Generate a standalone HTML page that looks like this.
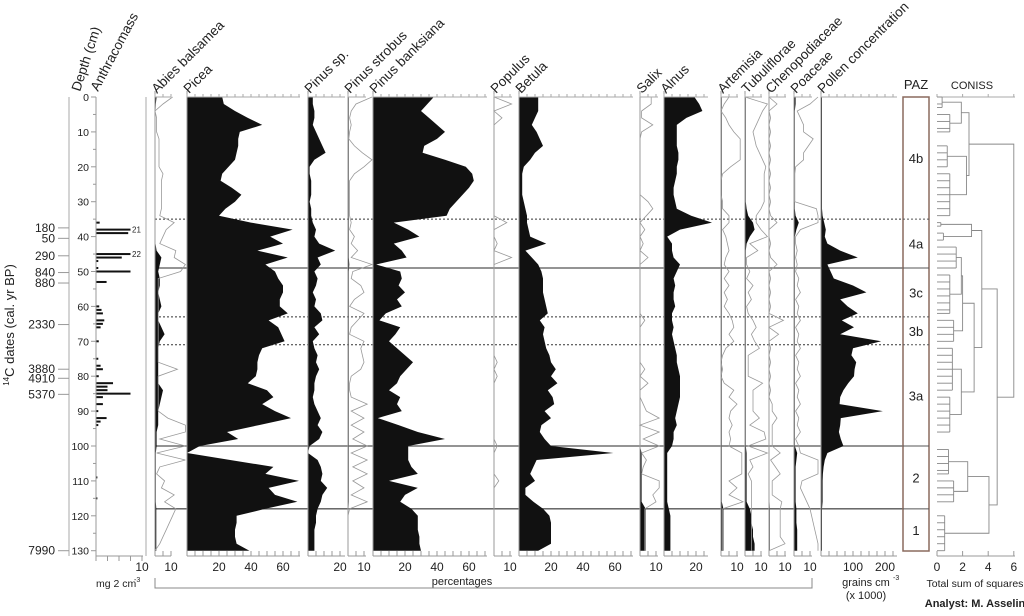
<!DOCTYPE html>
<html><head><meta charset="utf-8"><style>
html,body{margin:0;padding:0;background:#fff;}
svg{display:block;font-family:"Liberation Sans",sans-serif;}
</style></head><body>
<svg id="chart" width="1024" height="616" viewBox="0 0 1024 616" xmlns="http://www.w3.org/2000/svg"></svg>
<script>
const depths=[0,2,4,6,8,10,12,14,16,18,20,22,24,26,28,30,32,34,36,38,40,42,44,46,48,50,52,54,56,58,60,62,64,66,68,70,72,74,76,78,80,82,84,86,88,90,92,94,96,98,100,102,104,106,108,110,112,114,116,118,120,122,124,126,128,130];
const picea=[22,23,30,38,47,33,32,32,31,30,26,22,21,28,34,30,24,20,40,66,52,60,44,63,49,55,57,60,60,58,58,63,51,57,59,61,47,45,44,44,43,38,50,54,47,55,65,45,25,32,8,0,27,54,49,70,51,55,69,49,31,31,30,30,31,39];
const pinusSp=[3,3,4,4,3,5,7,9,11,4,1,1,2,2,2,1,2,2,3,5,4,7,17,6,8,4,6,5,3,5,4,8,9,4,7,3,4,6,5,7,5,4,4,3,4,6,8,6,9,7,1,0,6,8,9,8,12,9,8,6,5,5,4,4,4,4];
const banksiana=[38,34,30,35,40,45,40,32,31,45,58,62,63,60,56,52,48,46,13,22,29,13,18,21,2,17,18,16,20,15,18,8,4,17,14,10,15,20,25,21,17,15,10,17,15,18,3,16,28,45,22,22,22,24,28,10,28,20,17,24,28,28,28,29,29,30];
const betula=[12,12,12,10,8,11,13,15,10,7,3,2,2,2,2,3,4,5,5,6,7,17,4,8,12,14,15,15,15,16,17,18,13,16,15,16,17,19,20,23,20,24,18,21,22,16,20,14,13,16,20,59,11,9,7,10,4,4,9,15,19,20,20,20,20,12];
const alnus=[19,22,24,14,8,8,8,8,9,9,8,8,7,6,6,7,8,17,30,10,2,5,5,6,10,8,6,7,6,6,7,5,5,6,5,6,7,8,8,9,10,10,10,10,9,8,7,8,6,6,5,2,2,2,2,2,2,2,2,3,4,4,4,4,4,4];
const abies=[1,0.5,0.3,0.3,0.3,0.3,0.3,0.3,0.3,0.3,0.3,0.3,0.3,0.3,0.3,0.3,0.3,0.3,0.3,0.3,0.3,0.3,1,4,3,2,3,3,2,3,4,2,2,4,6,3,2,2,2,2,2,2,5,4,3,2,2,2,1,1,1,0.5,0.5,0.5,0.5,0.5,0.5,0.5,0.5,0.8,0.8,0.8,0.8,0.8,0.8,0.8];
const abiesEx=[11,5,0,1,1,1,2.5,2.5,2.5,2.5,2.5,5,4,4,4,4,4,3,12,7,5,3,13,12,19,16,2,2,2,2,2,2,2,2,2,2,2,2,2,14,2,2,2,2,2,2,8,19,19,3,19,1,19,3,1,6,4,12,6,13,11,9,7,5,3,0];
const strobus=[0.5,0.5,0.5,0.5,0.5,0.5,0.5,0.5,0.5,0.5,0.5,0.5,0.5,0.5,0.5,0.5,0.5,0.5,0.5,0.5,0.5,0.5,0.5,0.5,0.8,0.5,0.5,0.5,0.5,0.5,0.5,0.5,0.5,0.5,0.5,0.5,0.5,0.5,0.5,0.5,0.5,0.5,0.5,0.5,0.5,0.5,0.5,0.5,0.5,0.5,0.5,0.5,0.5,0.5,0.5,0.5,0.5,0.5,0.5,0.3,0.3,0.3,0.3,0.3,0.3,0.3];
const strobusEx=[15,5,2,1,2,1,0.5,4,9,15,10,4,1,1,1,1,1,1,2,1,4,2,6,2,15,3,2,8,10,4,1,10,6,2,1,10,8,9,10,8,2,1,1,2,12,2,10,2,10,3,12,2,12,3,12,3,10,2,12,1,0,0,0,0,0,0];
const populusEx=[0,11,0,5,0,0,0,0,0,0,0,0,0,0,0,0,0,0,8,0,0,2,0,11,0,0,0,0,0,0,0,0,0,0,0,0,0,0,2,0,2,0,0,0,0,0,0,0,0,0,2,0,0,0,0,3,0,0,0,0,0,0,0,0,0,0];
const salix=[0,0,0,0,0,0,0,0,0,0,0,0,0,0,0,0,0,0,0,0,0,0,0,0,0,0,0,0,0,0,0,0,0,0,0,0,0,0,0,0,0,0,0,0,0,0,0,0,0,0,0,1,1,1,1,1,1,1,1,3.5,3.5,3.5,3.5,3.5,3.5,3.5];
const salixEx=[7,7,1,1,8,1,0,0,0,0,0,0,0,0,0,5,8,4,0,3,0,2,0,5,0,0,0,0,0,0,0,0,3,0,0,0,0,0,0,3,0,5,0,0,2,4,12,0,12,2,12,1,4,2,1,12,12,8,10,3,3,3,3,3,3,3];
const artemisia=[0.5,0.5,0.5,0.5,0.5,0.5,0.5,0.5,0.5,0.5,0.5,0.5,0.5,0.5,0.5,0.5,0.5,0.5,0.5,0.5,0.5,0.5,0.5,0.5,0.5,0.5,0.5,0.5,0.5,0.5,0.5,0.5,0.5,0.5,0.5,0.5,0.5,0.5,0.5,0.5,0.5,0.5,0.5,0.5,0.5,0.5,0.5,0.5,0.5,0.5,0.5,0.5,0.5,0.5,0.5,0.5,0.5,0.5,0.5,1.5,1.5,1.5,1.5,1.5,1.5,1.5];
const artemisiaEx=[5,2,0,3,5,8,12,12,12,12,6,1,0,0,0,1,1,5,5,1,3,4,5,3,2,5,2,5,2,4,2,5,7,8,5,8,3,1,0,1,0,2,8,5,10,6,5,7,5,6,5,13,13,13,13,5,10,5,14,1,1,1,1,1,1,1];
const tubuli=[0.5,0.5,0.5,0.5,0.5,0.5,0.5,0.5,0.5,0.5,0.5,0.5,0.5,0.5,0.5,0.5,1,2,5,6,3,1,0.5,0.5,0.5,0.5,0.5,0.5,0.5,0.5,0.5,0.5,0.5,0.5,0.5,0.5,0.5,0.5,0.5,0.5,0.5,0.5,0.5,0.5,0.5,0.5,0.5,0.5,0.5,0.5,0.5,1,1,1,1,1,1,1,1,3,4,4,5,5,6,6];
const tubuliEx=[0,14,11,9,7,5,6,7,9,11,13,12,12,12,12,12,10,7,7,10,14,3,8,1,1,3,1,5,2,4,1,2,5,7,4,6,9,2,2,2,2,11,5,5,5,5,9,3,12,13,2,14,3,5,2,4,4,4,4,4,4,4,4,4,4,4];
const cheno=[0.3,0.3,0.3,0.3,0.3,0.3,0.3,0.3,0.3,0.3,0.3,0.3,0.3,0.3,0.3,0.3,0.3,0.3,0.3,0.3,0.3,0.3,0.3,0.3,0.3,0.3,0.3,0.3,0.3,0.3,0.3,0.3,0.3,0.3,0.3,0.3,0.3,0.3,0.3,0.3,0.3,0.3,0.3,0.3,0.3,0.3,0.3,0.3,0.3,0.3,0.3,0.3,0.3,0.3,0.3,0.3,0.3,0.3,0.3,0.5,0.5,0.5,0.5,0.5,0.5,0.5];
const chenoEx=[0,5,0,1,0,1,0,1,0,1,0,1,0,1,0,1,0,1,5,0,0,1,0,1,5,0,1,0,1,0,1,0,9,0,6,0,1,0,1,0,1,0,1,0,2,2,5,2,2,2,2,7,1,4,7,2,2,2,8,7,7,7,7,7,10,0];
const poaceae=[1,1,0.5,0.5,0.5,0.5,0.5,0.5,0.5,0.5,0.5,0.5,0.5,0.5,0.5,0.5,0.5,1,3,1.5,0.5,0.5,0.5,0.5,0.5,0.5,0.5,0.5,0.5,0.5,0.5,0.5,0.5,0.5,0.5,0.5,0.5,0.5,0.5,0.5,0.5,0.5,0.5,0.5,0.5,0.5,0.5,0.5,0.5,0.5,0.5,2,1.5,1,1,1,1,1,1,1.5,1.5,1.5,2,2,2,2];
const poaceaeEx=[15,10,2,4,6,6,12,9,6,6,1,0.5,0.5,0.5,0.5,0.5,14,15,15,4,1,1,2,1,2,1,3,2,4,1,3,2,4,1,3,2,4,1,3,2,4,1,3,2,4,1,3,2,4,1,3,4,15,15,15,5,4,6,8,10,11,12,13,14,16,17];
const concentration=[3,3,3,3,3,3,3,3,3,3,3,3,3,3,3,3,3,5,10,15,12,20,60,115,20,30,40,100,142,60,83,115,65,103,60,188,100,95,110,105,103,85,70,60,58,193,62,60,56,62,70,20,12,8,6,5,5,5,5,3,3,3,3,3,3,3];
const anthDepths=[36,38,39,45,46,47,49,50,53,60,61,62,64,65,66,70,75,77,78,80,82,83,84,85,86,88,90,92,93,94,109,115];
const anthValues=[0.8,21,7,22,5.6,0.5,0.5,8.3,2.3,0.7,1.2,1.5,1.8,1.5,1,0.6,0.5,1,1.5,0.6,3.7,2.5,2.5,8.8,1.5,1.5,0.5,2.3,1,0.5,0.3,0.3];
const dateLabels=["180","50","290","840","880","2330","3880","4910","5370","7990"];
const dateDepths=[37.5,40.5,45.5,50.3,53.3,65.2,78,80.6,85.2,130];
const zoneNames=["4b","4a","3c","3b","3a","2","1"];
const zoneTops=[0,35,49,63,71,100,118];
const zoneBottoms=[35,49,63,71,100,118,130];
const zoneSolid=[false,true,false,false,true,true];
const conissGroups=[[0,3,0.4],[5,10,1.0],[14,20,0.8],[22,34,1.0],[36,37,0.3],[39,41,0.5],[43,49,1.5],[51,62,1.0],[64,70,1.3],[72,84,1.2],[86,96,1.0],[101,108,0.9],[110,116,1.3],[120,130,0.6]];
const conissNodes=[[1.5,0.4,7.5,1.0,1.9],[17,0.8,28,1.0,2.3],[4.5,1.9,22.5,2.3,2.5],[36.5,0.3,40,0.5,2.7],[46,1.5,56.5,1.0,1.9],[51.25,1.9,67,1.3,2.0],[78,1.2,91,1.0,1.9],[59.1,2.0,84.5,1.9,2.9],[38.25,2.7,71.8,2.9,3.5],[104.5,0.9,113,1.3,2.4],[108.75,2.4,125,0.6,4.06],[55,3.5,116.9,4.06,4.7],[13.5,2.5,86,4.7,6]];

const svg=document.getElementById('chart');
const NS='http://www.w3.org/2000/svg';
const Y0=97, PXCM=3.49, PXPCT=1.6;
function yD(d){return Y0+d*PXCM;}
function mk(tag,attrs,parent){const e=document.createElementNS(NS,tag);for(const k in attrs)e.setAttribute(k,attrs[k]);(parent||svg).appendChild(e);return e;}
function txt(x,y,s,size,anchor,extra){const t=mk('text',Object.assign({x:x,y:y,'font-size':size,'text-anchor':anchor||'middle',fill:'#222'},extra||{}));t.textContent=s;return t;}

const panels=[
 ['abies',155,171,'Abies balsamea',[10],true],
 ['picea',187,300,'Picea',[20,40,60],true],
 ['pinus-sp',308,345,'Pinus sp.',[20],true],
 ['pinus-strobus',348,366,'Pinus strobus',[10],true],
 ['pinus-banksiana',373,487,'Pinus banksiana',[20,40,60],true],
 ['populus',494,512,'Populus',[10],true],
 ['betula',519,633,'Betula',[20,40,60],true],
 ['salix',640,658,'Salix',[10],true],
 ['alnus',664,708,'Alnus',[20],true],
 ['artemisia',721,738,'Artemisia',[10],true],
 ['tubuliflorae',745,762,'Tubuliflorae',[10],true],
 ['chenopodiaceae',769,786,'Chenopodiaceae',[10],true],
 ['poaceae',794,812,'Poaceae',[10],true],
 ['pollen-concentration',821,897,'Pollen concentration',[100,200],false]
];
const blackSeries={'abies':abies,'picea':picea,'pinus-sp':pinusSp,'pinus-strobus':strobus,'pinus-banksiana':banksiana,'betula':betula,'salix':salix,'alnus':alnus,'artemisia':artemisia,'tubuliflorae':tubuli,'chenopodiaceae':cheno,'poaceae':poaceae,'pollen-concentration':concentration};
const graySeries={'abies':abiesEx,'pinus-strobus':strobusEx,'populus':populusEx,'salix':salixEx,'artemisia':artemisiaEx,'tubuliflorae':tubuliEx,'chenopodiaceae':chenoEx,'poaceae':poaceaeEx};
const clipRight={'abies':186,'pinus-strobus':372,'populus':514,'salix':663,'artemisia':743,'tubuliflorae':768,'chenopodiaceae':792,'poaceae':818};

for(let i=0;i<zoneBottoms.length-1;i++){
  const l=mk('line',{x1:155,x2:903,y1:yD(zoneBottoms[i]),y2:yD(zoneBottoms[i]),stroke:zoneSolid[i]?'#555':'#333','stroke-width':zoneSolid[i]?1.3:1,'stroke-dasharray':zoneSolid[i]?'none':'2,2'});
  
  
}

panels.forEach(p=>{
  const [name,x0,x1,label,ticks,isPct]=p;
  const g=mk('g',{});
  
  
  const sc=isPct?PXPCT:0.32;
  const vals=blackSeries[name];
  if(vals){
    let pts=[[x0,yD(depths[0])]];
    depths.forEach((d,i)=>pts.push([x0+vals[i]*sc,yD(d)]));
    pts.push([x0,yD(depths[depths.length-1])]);
    const poly=mk('polygon',{points:pts.map(q=>q[0].toFixed(1)+','+q[1].toFixed(1)).join(' '),fill:'#111',stroke:'none'},g);
    
    
  }
  const gv=graySeries[name];
  if(gv){
    const pl=mk('polyline',{points:depths.map((d,i)=>Math.min(x0+gv[i]*PXPCT,clipRight[name]).toFixed(1)+','+yD(d).toFixed(1)).join(' '),fill:'none',stroke:'#999','stroke-width':0.8},g);
    
    
  }
  mk('line',{x1:x0,x2:x0,y1:91,y2:556,stroke:'#999','stroke-width':1},g);
  mk('line',{x1:x0,x2:x1,y1:Y0,y2:Y0,stroke:'#aaa','stroke-width':1},g);
  mk('line',{x1:x0,x2:x1,y1:556,y2:556,stroke:'#999','stroke-width':1},g);
  const step=isPct?5:25, max=(x1-x0)/sc;
  for(let v=0;v<=max+0.01;v+=step){
    const x=x0+v*sc;
    mk('line',{x1:x,x2:x,y1:Y0,y2:Y0-3,stroke:'#aaa'},g);
    mk('line',{x1:x,x2:x,y1:556,y2:551,stroke:'#999'},g);
  }
  ticks.forEach(v=>{const t=txt(x0+v*sc,571,String(v),12,'middle');});
  const h=txt(0,0,label,13.5,'start',{transform:`translate(${x0+2},94) rotate(-45)`});
  
  
});

mk('line',{x1:146,x2:146,y1:97,y2:556,stroke:'#aaa'});
mk('line',{x1:96,x2:143,y1:556,y2:556,stroke:'#999'});
for(let v=0;v<=10;v+=2.5){mk('line',{x1:96+v*4.6,x2:96+v*4.6,y1:556,y2:561,stroke:'#999'});}
anthDepths.forEach((d,i)=>{
  const v=anthValues[i];
  const w=Math.min(v,7.5)*4.6;
  const r=mk('rect',{x:96,y:yD(d)-1,width:w,height:2,fill:'#111'});
  
  
  if(v>10){const t=txt(132,yD(d)+3,String(v),8,'start');}
});
txt(142,571,'10',12,'middle');
const mg=txt(96,587,'mg 2 cm',10.5,'start');
txt(134,582,'-3',7,'start');

mk('line',{x1:96,x2:96,y1:97,y2:556,stroke:'#999'});
for(let d=0;d<=130;d+=5){
  mk('line',{x1:96,x2:d%10?93:91,y1:yD(d),y2:yD(d),stroke:'#999'});
  if(d%10===0){const t=txt(89,yD(d)+4,String(d),10.5,'end');}
}
const dh=txt(0,0,'Depth (cm)',13.5,'start',{transform:'translate(80,92) rotate(-72)'});
const ah=txt(0,0,'Anthracomass',13.5,'start',{transform:'translate(98,92) rotate(-62)'});

mk('line',{x1:69,x2:69,y1:97,y2:556,stroke:'#aaa'});
dateLabels.forEach((s,i)=>{
  mk('line',{x1:58,x2:69,y1:yD(dateDepths[i]),y2:yD(dateDepths[i]),stroke:'#999'});
  const t=txt(55,yD(dateDepths[i])+4,s,12,'end');
  
  
});
const dt=txt(0,0,'',13,'middle',{transform:'translate(14,325) rotate(-90)'});
dt.innerHTML='<tspan font-size="8" dy="-5">14</tspan><tspan dy="5">C dates (cal. yr BP)</tspan>';


const br=mk('polyline',{points:'155,578 155,588 812,588 812,578',fill:'none',stroke:'#888'});

const pc=txt(462,585,'percentages',11,'middle');
txt(866,586,'grains cm',11,'middle');txt(893,580,'-3',7,'start');
txt(866,599,'(x 1000)',11,'middle');

const paz=mk('rect',{x:903,y:97,width:26,height:454,fill:'none',stroke:'#8a6a5e','stroke-width':1.5});

txt(916,89,'PAZ',13,'middle');
zoneNames.forEach((z,i)=>{
  const t=txt(916,(yD(zoneTops[i])+yD(zoneBottoms[i]))/2+5,z,13,'middle');
  
  
});
for(let i=0;i<zoneBottoms.length-1;i++){
  mk('line',{x1:903,x2:929,y1:yD(zoneBottoms[i]),y2:yD(zoneBottoms[i]),stroke:'#555','stroke-dasharray':zoneSolid[i]?'none':'2,2'});
}

const CX0=937, CSC=12.8;
function cx(s){return CX0+s*CSC;}
txt(972,89,'CONISS',11,'middle');
mk('line',{x1:937,x2:1015,y1:Y0,y2:Y0,stroke:'#aaa'});
mk('line',{x1:937,x2:1015,y1:556,y2:556,stroke:'#999'});
[0,2,4,6].forEach(v=>{mk('line',{x1:cx(v),x2:cx(v),y1:556,y2:551,stroke:'#999'});mk('line',{x1:cx(v),x2:cx(v),y1:97,y2:94,stroke:'#aaa'});const t=txt(cx(v),571,String(v),12,'middle');});
const dg=mk('g',{stroke:'#888','stroke-width':0.9,fill:'none'});

conissGroups.forEach(g=>{
  mk('line',{x1:cx(g[2]),x2:cx(g[2]),y1:yD(g[0]),y2:yD(g[1])},dg);
  for(let d=g[0];d<=g[1];d+=2){mk('line',{x1:CX0,x2:cx(g[2]),y1:yD(d),y2:yD(d)},dg);}
  if((g[1]-g[0])%2)mk('line',{x1:CX0,x2:cx(g[2]),y1:yD(g[1]),y2:yD(g[1])},dg);
});
conissNodes.forEach(n=>{
  mk('polyline',{points:`${cx(n[1])},${yD(n[0])} ${cx(n[4])},${yD(n[0])} ${cx(n[4])},${yD(n[2])} ${cx(n[3])},${yD(n[2])}`},dg);
});
const ts=txt(975,587,'Total sum of squares',10.5,'middle');
const an=txt(975,607,'Analyst: M. Asselin',11,'middle',{'font-weight':'bold'});
</script>
</body></html>
